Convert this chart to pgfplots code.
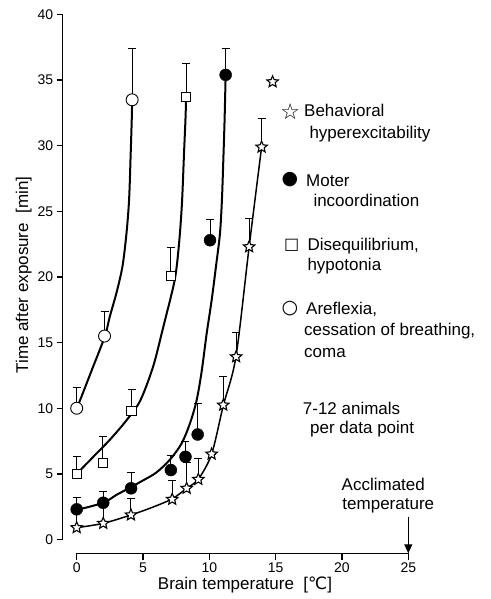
\documentclass[border=0pt]{standalone}
\usepackage{pgfplots}
\pgfplotsset{compat=1.18}
\usepackage{fontspec}
\setmainfont{Liberation Sans}
\newfontfamily\djv{DejaVu Sans}
\usetikzlibrary{arrows.meta}

\pgfdeclareplotmark{ostar}{%
\pgfpathmoveto{\pgfqpointpolar{90}{\pgfplotmarksize}}%
\pgfpathlineto{\pgfqpointpolar{126}{0.45\pgfplotmarksize}}%
\pgfpathlineto{\pgfqpointpolar{162}{\pgfplotmarksize}}%
\pgfpathlineto{\pgfqpointpolar{198}{0.45\pgfplotmarksize}}%
\pgfpathlineto{\pgfqpointpolar{234}{\pgfplotmarksize}}%
\pgfpathlineto{\pgfqpointpolar{270}{0.45\pgfplotmarksize}}%
\pgfpathlineto{\pgfqpointpolar{306}{\pgfplotmarksize}}%
\pgfpathlineto{\pgfqpointpolar{342}{0.45\pgfplotmarksize}}%
\pgfpathlineto{\pgfqpointpolar{18}{\pgfplotmarksize}}%
\pgfpathlineto{\pgfqpointpolar{54}{0.45\pgfplotmarksize}}%
\pgfpathclose
\pgfusepathqfillstroke}

\newcommand{\txt}{\fontsize{17}{20}\selectfont}

\begin{document}
\begin{tikzpicture}
\path[use as bounding box] (-76.7pt,-59.5pt) rectangle (413.3pt,539.5pt);
\begin{axis}[
  anchor=origin, at={(0,0)},
  scale only axis, width=331.6pt, height=525pt,
  xmin=0, xmax=25, ymin=0, ymax=40,
  axis lines*=left,
  axis x line shift=14pt, axis y line shift=14pt,
  xtick={0,5,...,25}, ytick={0,5,...,40},
  tick align=outside, major tick length=6pt,
  axis line style={line width=1.3pt},
  every tick/.style={line width=1.3pt, black},
  /pgf/number format/assume math mode=true,
  tick label style={font=\fontsize{14}{14}\selectfont},
  clip=false,
  error bars/y dir=plus, error bars/y explicit,
  error bars/error bar style={line width=0.9pt, black},
  error bars/error mark=-,
  error bars/error mark options={rotate=90, line width=0.9pt, mark size=4pt, black},
]
% fitted curves
\addplot[black, line width=2pt, smooth] coordinates {
 (0,10) (0.25,10.6) (1.25,13.2) (2.13,15.5) (2.5,17) (3,18.8) (3.45,20.8) (3.75,23.3) (3.95,25.9) (4.07,29.4) (4.15,32) (4.18,33.5)};
\addplot[black, line width=2pt, smooth] coordinates {
 (0,5) (1.25,6.3) (2.5,7.6) (3.77,9.1) (4.8,10.6) (5.77,13.2) (6.53,16.2) (7.28,19.25) (7.54,20.8) (7.78,23.3) (7.95,25.9) (8.09,29.4) (8.2,32) (8.25,33.7)};
\addplot[black, line width=2pt, smooth] coordinates {
 (0,2.25) (2,2.8) (3,3.4) (4.1,4.0) (5,4.5) (6,5.1) (7,6.05) (7.9,7.3) (8.54,8.85) (9.04,10.6) (9.42,12.8) (9.8,15.7) (10.17,18.2) (10.5,20.8) (10.8,23.3) (10.95,25.9) (11.07,29.4) (11.15,32) (11.23,35.4)};
\addplot[black, line width=1.5pt, smooth] coordinates {
 (0,0.9) (2,1.23) (4.09,1.87) (5.7,2.45) (7.2,3.1) (8.29,3.9) (9.17,4.6) (10.17,6.5) (11.05,10.2) (12.0,13.9) (13.0,22.3) (13.94,29.9)};
% data points
\addplot[only marks, mark=ostar, mark size=6pt, mark options={fill=white, draw=black, line width=1.1pt}]
 table[x=x, y=y, y error=e] {
x y e
0 0.9 1.3
2 1.23 1.3
4.09 1.87 1.27
7.2 3.06 1.42
8.29 3.9 2.0
9.17 4.58 1.6
10.17 6.51 0
11.05 10.24 2.2
12.02 13.92 1.85
13.0 22.3 2.15
13.94 29.9 2.2
14.77 34.87 0
};
\addplot[only marks, mark=*, mark size=6pt, mark options={fill=black, draw=black}]
 table[x=x, y=y, y error=e] {
x y e
0 2.3 0.9
2 2.8 0.85
4.1 3.9 1.2
7.1 5.29 1.15
8.2 6.3 1.2
9.12 8.0 2.4
10.05 22.8 1.6
11.23 35.4 2.0
};
\addplot[only marks, mark=square*, mark size=4.7pt, mark options={fill=white, draw=black, line width=0.9pt}]
 table[x=x, y=y, y error=e] {
x y e
0 5.0 1.3
1.96 5.85 2.0
4.14 9.81 1.65
7.1 20.07 2.15
8.24 33.7 2.6
};
\addplot[only marks, mark=*, mark size=6pt, mark options={fill=white, draw=black, line width=0.9pt}]
 table[x=x, y=y, y error=e] {
x y e
0 10.0 1.6
2.1 15.5 1.85
4.18 33.5 3.9
};
\draw[line width=1.2pt, -{Triangle[length=9pt, width=8pt]}] (axis cs:25,1.75) -- (axis cs:25,-1.05);
\end{axis}
% axis labels
\node[rotate=90, font=\txt] at (-53pt,264.5pt) {Time after exposure\ \ [min]};
\node[font=\txt] at (168.3pt,-45.5pt) {Brain temperature\ \ [{\djv ℃}]};
% legend
\node[font=\djv\fontsize{22}{22}\selectfont, inner sep=0pt] at (213.5pt,428pt) {☆};
\node[anchor=base west, font=\txt, inner sep=0pt] at (227.3pt,422.8pt) {Behavioral};
\node[anchor=base west, font=\txt, inner sep=0pt] at (232.6pt,401.2pt) {hyperexcitability};
\node[font=\djv\fontsize{19}{19}\selectfont] at (213.3pt,359.5pt) {●};
\node[anchor=base west, font=\txt, inner sep=0pt] at (229.3pt,352.8pt) {Moter};
\node[anchor=base west, font=\txt, inner sep=0pt] at (236.6pt,332.8pt) {incoordination};
\node[font=\djv\fontsize{16}{16}\selectfont] at (215pt,294.5pt) {□};
\node[anchor=base west, font=\txt, inner sep=0pt] at (230.6pt,288.8pt) {Disequilibrium,};
\node[anchor=base west, font=\txt, inner sep=0pt] at (230.6pt,268.8pt) {hypotonia};
\node[font=\djv\fontsize{19}{19}\selectfont] at (213.3pt,231.2pt) {○};
\node[anchor=base west, font=\txt, inner sep=0pt] at (229.3pt,224.5pt) {Areflexia,};
\node[anchor=base west, font=\txt, inner sep=0pt] at (227.3pt,203.5pt) {cessation of breathing,};
\node[anchor=base west, font=\txt, inner sep=0pt] at (227.3pt,182.2pt) {coma};
\node[anchor=base west, font=\txt, inner sep=0pt] at (226pt,124.5pt) {7-12 animals};
\node[anchor=base west, font=\txt, inner sep=0pt] at (233.3pt,105.5pt) {per data point};
\node[anchor=base, font=\txt, inner sep=0pt] at (306.6pt,48.8pt) {Acclimated};
\node[anchor=base, font=\txt, inner sep=0pt] at (311.6pt,29.5pt) {temperature};
\end{tikzpicture}
\end{document}
